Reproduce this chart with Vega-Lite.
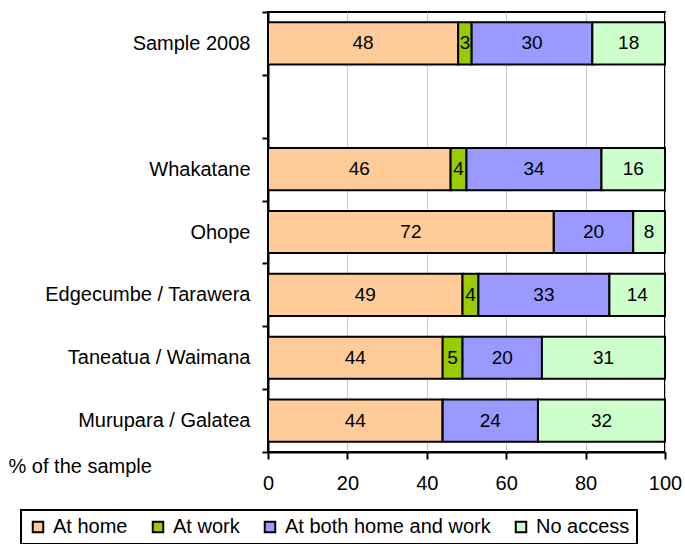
{
  "$schema": "https://vega.github.io/schema/vega-lite/v6.json",
  "autosize": {"type": "none"},
  "width": 397,
  "height": 440,
  "padding": {"left": 268, "top": 12, "right": 20, "bottom": 92},
  "config": {
    "font": "Liberation Sans",
    "view": {"stroke": "black", "strokeWidth": 2},
    "axis": {"labelFont": "Liberation Sans", "labelFontSize": 20, "labelColor": "black", "domainColor": "black", "tickColor": "black", "domainWidth": 2, "tickWidth": 2, "labelLimit": 300}
  },
  "data": {
    "values": [
      {"area": "Sample 2008", "access": "At home", "k": 1, "value": 47.9},
      {"area": "Sample 2008", "access": "At work", "k": 2, "value": 3.4},
      {"area": "Sample 2008", "access": "At both home and work", "k": 3, "value": 30.4},
      {"area": "Sample 2008", "access": "No access", "k": 4, "value": 18.3},
      {"area": "Whakatane", "access": "At home", "k": 1, "value": 46},
      {"area": "Whakatane", "access": "At work", "k": 2, "value": 4},
      {"area": "Whakatane", "access": "At both home and work", "k": 3, "value": 34},
      {"area": "Whakatane", "access": "No access", "k": 4, "value": 16},
      {"area": "Ohope", "access": "At home", "k": 1, "value": 72},
      {"area": "Ohope", "access": "At work", "k": 2, "value": 0},
      {"area": "Ohope", "access": "At both home and work", "k": 3, "value": 20},
      {"area": "Ohope", "access": "No access", "k": 4, "value": 8},
      {"area": "Edgecumbe / Tarawera", "access": "At home", "k": 1, "value": 49},
      {"area": "Edgecumbe / Tarawera", "access": "At work", "k": 2, "value": 4},
      {"area": "Edgecumbe / Tarawera", "access": "At both home and work", "k": 3, "value": 33},
      {"area": "Edgecumbe / Tarawera", "access": "No access", "k": 4, "value": 14},
      {"area": "Taneatua / Waimana", "access": "At home", "k": 1, "value": 44},
      {"area": "Taneatua / Waimana", "access": "At work", "k": 2, "value": 5},
      {"area": "Taneatua / Waimana", "access": "At both home and work", "k": 3, "value": 20},
      {"area": "Taneatua / Waimana", "access": "No access", "k": 4, "value": 31},
      {"area": "Murupara / Galatea", "access": "At home", "k": 1, "value": 44},
      {"area": "Murupara / Galatea", "access": "At work", "k": 2, "value": 0},
      {"area": "Murupara / Galatea", "access": "At both home and work", "k": 3, "value": 24},
      {"area": "Murupara / Galatea", "access": "No access", "k": 4, "value": 32}
    ]
  },
  "encoding": {
    "y": {
      "field": "area",
      "type": "nominal",
      "scale": {
        "domain": ["Sample 2008", " ", "Whakatane", "Ohope", "Edgecumbe / Tarawera", "Taneatua / Waimana", "Murupara / Galatea"],
        "paddingInner": 0,
        "paddingOuter": 0
      },
      "axis": {"title": null, "tickSize": 6, "labelPadding": 12, "tickBand": "extent", "grid": false}
    },
    "x": {
      "field": "value",
      "type": "quantitative",
      "stack": "zero",
      "scale": {"domain": [0, 100], "nice": false},
      "axis": {
        "values": [0, 20, 40, 60, 80, 100],
        "grid": true,
        "gridColor": "#c8c8c8",
        "gridWidth": 1,
        "tickSize": 7,
        "labelPadding": 14,
        "labelFlush": false,
        "title": "% of the sample",
        "titleFont": "Liberation Sans",
        "titleFontSize": 20,
        "titleFontWeight": "normal",
        "titleColor": "black",
        "titleAnchor": "start",
        "titleAlign": "left",
        "titleBaseline": "alphabetic",
        "titleX": -260,
        "titleY": 20
      }
    },
    "order": {"field": "k", "type": "quantitative"}
  },
  "layer": [
    {
      "mark": {"type": "bar", "stroke": "black", "strokeWidth": 2, "height": {"band": 0.67}},
      "encoding": {
        "color": {
          "field": "access",
          "type": "nominal",
          "scale": {
            "domain": ["At home", "At work", "At both home and work", "No access"],
            "range": ["#FFCC99", "#99CC00", "#9999FF", "#CCFFCC"]
          },
          "legend": {
            "title": null,
            "orient": "none",
            "legendX": -247,
            "legendY": 498,
            "direction": "horizontal",
            "columns": 4,
            "symbolType": "square",
            "symbolSize": 110,
            "symbolStrokeColor": "black",
            "symbolStrokeWidth": 2,
            "labelFont": "Liberation Sans",
            "labelFontSize": 20,
            "labelColor": "black",
            "labelOffset": 5,
            "labelLimit": 400,
            "columnPadding": 20,
            "strokeColor": "black",
            "padding": 7,
            "fillColor": "white",
            "encode": {"legend": {"update": {"strokeWidth": {"value": 2}}}}
          }
        }
      }
    },
    {
      "transform": [{"filter": "datum.value > 0"}],
      "mark": {"type": "text", "font": "Liberation Sans", "fontSize": 19, "color": "black"},
      "encoding": {
        "x": {"field": "value", "type": "quantitative", "stack": "zero", "bandPosition": 0.5},
        "text": {"field": "value", "type": "quantitative", "format": ".0f"}
      }
    }
  ]
}
